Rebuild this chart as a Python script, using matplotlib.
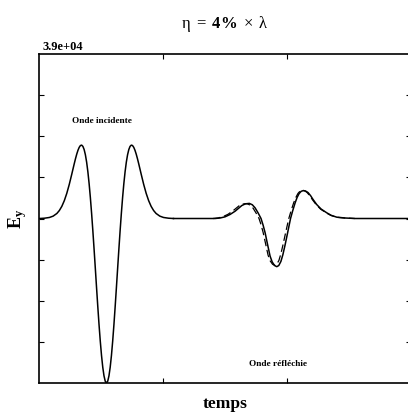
"""Champ E_y au point d'observation : onde incidente puis onde reflechie."""
import matplotlib
matplotlib.use("Agg")
import matplotlib.pyplot as plt

plt.rcParams["font.family"] = ["Liberation Serif", "DejaVu Serif"]
plt.rcParams["mathtext.fontset"] = "custom"
plt.rcParams["mathtext.rm"] = "Liberation Serif"
plt.rcParams["mathtext.it"] = "Liberation Serif:italic"
plt.rcParams["mathtext.bf"] = "Liberation Serif:bold"

E_MAX = 3.9e4

# onde incidente (trait plein)
t_inc = [0.0, 0.4, 4.4, 8.4, 11.4, 14.4, 16.4, 18.4, 20.4, 22.4, 24.4, 26.4,
         27.4, 28.4, 29.4, 30.4, 31.4, 32.4, 33.4, 34.4, 35.4, 36.4, 37.4,
         38.4, 39.4, 40.4, 41.4, 42.4, 43.4, 44.4, 45.4, 46.4, 47.4, 48.4,
         49.4, 50.4, 51.4, 52.4, 53.4, 54.4, 55.4, 56.4, 57.4, 58.4, 59.4,
         60.4, 61.4, 62.4, 63.4, 64.4, 65.4, 66.4, 67.4, 68.4, 69.4, 70.4,
         71.4, 72.4, 73.4, 74.4, 75.4, 76.4, 77.4, 78.4, 79.4, 80.4, 81.4,
         82.4, 84.4, 86.4, 88.4, 90.4, 92.4, 94.4, 97.4, 100.4, 104.4, 108.4]
e_inc = [0, 0, 72, 245, 563, 1195, 1892, 2882, 4231, 5969, 8083, 10486,
         11733, 12969, 14154, 15237, 16160, 16866, 17301, 17393, 17091, 16341, 15107,
         13354, 11075, 8275, 4981, 1245, -2862, -7248, -11803, -16400, -20905, -25177,
         -29077, -32474, -35250, -37308, -38573, -39000, -38573, -37308, -35250, -32474, -29077,
         -25177, -20905, -16400, -11803, -7248, -2862, 1245, 4981, 8275, 11075, 13354,
         15107, 16341, 17091, 17393, 17301, 16866, 16160, 15237, 14154, 12969, 11733,
         10486, 8083, 5969, 4231, 2882, 1892, 1195, 563, 245, 72, 0]

# onde reflechie, simulation (trait plein)
t_ref_sim = [108.4, 141.9, 146.0, 150.0, 154.0, 158.1, 161.0, 163.5, 166.0, 167.0,
             169.6, 172.0, 174.2, 176.5, 179.0, 180.7, 182.3, 184.3, 186.3, 188.0,
             189.9, 191.7, 193.3, 195.0, 196.6, 198.3, 200.0, 201.4, 202.8, 204.6,
             206.5, 208.1, 209.7, 211.4, 213.1, 215.0, 216.9, 219.0, 221.0, 223.9,
             227.4, 232.0, 235.5, 240.1, 246.8, 254.8, 300.0]
e_ref_sim = [0, 0, 120, 400, 950, 1730, 2450, 3070, 3420, 3500,
             3580, 3250, 2530, 1400, 0, -1600, -3380, -6200, -8910, -10300,
             -11150, -11420, -11150, -10200, -8600, -6400, -4020, -2000, 0, 1900,
             3710, 5000, 5910, 6450, 6620, 6500, 6150, 5400, 4490, 3310,
             2250, 1350, 760, 310, 120, 0, 0]

# onde reflechie, reference (tirets)
t_ref_th = [140.3, 144.4, 148.4, 152.4, 156.5, 159.4, 161.9, 164.4, 166.4, 168.0,
            170.4, 172.6, 175.0, 177.4, 179.1, 180.7, 182.7, 184.7, 186.4, 188.3,
            190.1, 191.7, 193.4, 195.0, 196.7, 198.4, 199.9, 201.4, 203.3, 205.3,
            207.1, 208.8, 210.5, 212.3, 214.2, 216.1, 218.3, 220.4, 223.4, 227.0,
            231.7, 235.3, 239.9, 246.7, 254.7]
e_ref_th = [0, 130, 450, 1000, 1850, 2550, 3150, 3420, 3520, 3480,
            3150, 2450, 1300, 0, -1550, -3300, -6000, -8700, -10050, -10850,
            -11100, -10850, -9950, -8400, -6250, -3950, -1950, 0, 1900, 3700,
            5000, 5950, 6500, 6700, 6580, 6180, 5400, 4480, 3300, 2230,
            1320, 740, 300, 110, 0]

y_ticks = [-29250, -19500, -9750, 0, 9750, 19500, 29250]
x_ticks = [100, 200]

fig = plt.figure(figsize=(4.08, 4.16), dpi=100)
ax = fig.add_axes([0.0956, 0.0793, 0.912, 0.7909])

ax.plot(t_inc, e_inc, color="black", lw=1.1)
ax.plot(t_ref_sim, e_ref_sim, color="black", lw=1.1)
ax.plot(t_ref_th, e_ref_th, color="black", lw=0.9, ls=(0, (6, 3)))

ax.set_xlim(0, 300)
ax.set_ylim(-E_MAX, E_MAX)
ax.set_xticks(x_ticks)
ax.set_yticks(y_ticks)
ax.tick_params(direction="in", length=3.3, width=0.8, top=True, right=True,
               labelbottom=False, labelleft=False)
for s in ax.spines.values():
    s.set_linewidth(1.2)

ax.text(0.01, 1.003, "3.9e+04", transform=ax.transAxes, ha="left", va="bottom",
        fontsize=9, fontweight="bold")
ax.text(50.8, 2.3e4, "Onde incidente", ha="center", va="center",
        fontsize=6.7, fontweight="bold")
ax.text(192.7, -3.45e4, "Onde réfléchie", ha="center", va="center",
        fontsize=6.7, fontweight="bold")

ax.set_title(r"$\mathrm{η}\ =\ \mathbf{4\%}\ \times\ \mathrm{λ}$", fontsize=12, pad=19)
ax.set_xlabel("temps", fontsize=12.5, fontweight="bold", labelpad=9)
ax.set_ylabel(r"$\mathbf{E}_{\mathbf{y}}$", fontsize=13, labelpad=7)

fig.savefig("out.png", dpi=100)
